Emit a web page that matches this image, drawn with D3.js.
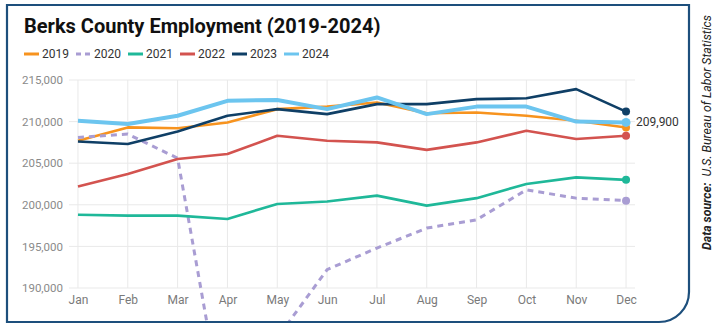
<!DOCTYPE html>
<html>
<head>
<meta charset="utf-8">
<script src="https://cdn.jsdelivr.net/npm/d3@7"></script>
<style>
  html, body { margin: 0; padding: 0; background: #fff; }
  svg { display: block; }
  text { font-family: Roboto, "Noto Sans", sans-serif; }
</style>
</head>
<body>
<svg id="chart" width="718" height="333"></svg>
<script>
// monthly employment, Berks County
var months = ["Jan", "Feb", "Mar", "Apr", "May", "Jun", "Jul", "Aug", "Sep", "Oct", "Nov", "Dec"];
var years = ["2019", "2020", "2021", "2022", "2023", "2024"];

var emp2019 = [207700, 209300, 209200, 209900, 211500, 211800, 212300, 211000, 211100, 210700, 210100, 209300];
var emp2020 = [208100, 208500, 205600, 172000, 184000, 192200, 194800, 197200, 198200, 201800, 200800, 200500];
var emp2021 = [198800, 198700, 198700, 198300, 200100, 200400, 201100, 199900, 200800, 202500, 203300, 203000];
var emp2022 = [202200, 203700, 205500, 206100, 208300, 207700, 207500, 206600, 207500, 208900, 207900, 208300];
var emp2023 = [207600, 207300, 208800, 210700, 211500, 210900, 212100, 212100, 212700, 212800, 213900, 211200];
var emp2024 = [210100, 209700, 210700, 212500, 212600, 211500, 212900, 210900, 211800, 211800, 210000, 209900];

var yTicks = [190000, 195000, 200000, 205000, 210000, 215000];

var colors = ["#f7931e", "#a99dd3", "#1fb899", "#d3534f", "#0f3f66", "#6cc5ef"];

var series = [emp2019, emp2020, emp2021, emp2022, emp2023, emp2024].map(function(vals, i) {
  return { year: years[i], values: vals, color: colors[i] };
});

var svg = d3.select("#chart"),
    width = +svg.attr("width"),
    height = +svg.attr("height");

// card outline, rounded bottom-right corner
svg.append("path")
    .attr("d", "M7,5 H689 V292 A30,30 0 0 1 659,322 H7 Z")
    .attr("fill", "#fff")
    .attr("stroke", "#1d4f7c")
    .attr("stroke-width", 2.2);

svg.append("text")
    .attr("x", 24)
    .attr("y", 33)
    .attr("font-size", 20)
    .attr("font-weight", "bold")
    .attr("fill", "#111")
    .text("Berks County Employment (2019-2024)");

// legend
var legend = svg.append("g").attr("transform", "translate(24,54)");
var item = legend.selectAll("g")
    .data(series)
    .enter().append("g")
      .attr("transform", function(d, i) { return "translate(" + (i * 52) + ",0)"; });
item.append("line")
    .attr("x1", 0).attr("x2", 15)
    .attr("stroke", function(d) { return d.color; })
    .attr("stroke-width", 3)
    .attr("stroke-dasharray", function(d) { return d.year == "2020" ? "5,4" : null; });
item.append("text")
    .attr("x", 18)
    .attr("y", 4)
    .attr("font-size", 12)
    .attr("fill", "#333")
    .text(function(d) { return d.year; });

var x = d3.scalePoint()
    .domain(months)
    .range([69, 635])
    .padding(0.18);

var y = d3.scaleLinear()
    .domain([190000, 215000])
    .range([288, 80]);

// grid
var grid = svg.append("g").attr("class", "grid");
grid.selectAll("line.h")
    .data(yTicks)
    .enter().append("line")
      .attr("class", "h")
      .attr("x1", 69).attr("x2", 635)
      .attr("y1", function(d) { return y(d); })
      .attr("y2", function(d) { return y(d); })
      .attr("stroke", "#e9e9e9")
      .attr("stroke-width", 1);
grid.selectAll("line.v")
    .data(months)
    .enter().append("line")
      .attr("class", "v")
      .attr("x1", function(d) { return x(d); })
      .attr("x2", function(d) { return x(d); })
      .attr("y1", 80).attr("y2", 288)
      .attr("stroke", "#e9e9e9")
      .attr("stroke-width", 1);

// axes (labels only)
var yAxis = svg.append("g")
    .attr("transform", "translate(63,0)")
    .call(d3.axisLeft(y).tickValues(yTicks).tickSize(0).tickPadding(0).tickFormat(d3.format(",")));
yAxis.select(".domain").remove();
yAxis.selectAll("text")
    .attr("font-size", 11.5)
    .attr("font-family", "Roboto, sans-serif")
    .attr("fill", "#8a8a8a");

var xAxis = svg.append("g")
    .attr("transform", "translate(0,288)")
    .call(d3.axisBottom(x).tickSize(0).tickPadding(7));
xAxis.select(".domain").remove();
xAxis.selectAll("text")
    .attr("font-size", 12)
    .attr("font-family", "Roboto, sans-serif")
    .attr("fill", "#7a7a7a");

// lines may dip below the axis, keep them inside the card
svg.append("clipPath")
    .attr("id", "card-clip")
  .append("rect")
    .attr("x", 8).attr("y", 6)
    .attr("width", 680).attr("height", 315);

var line = d3.line()
    .x(function(d, i) { return x(months[i]); })
    .y(function(d) { return y(d); });

var lines = svg.append("g").attr("clip-path", "url(#card-clip)");
lines.selectAll("path")
    .data(series)
    .enter().append("path")
      .attr("d", function(d) { return line(d.values); })
      .attr("fill", "none")
      .attr("stroke", function(d) { return d.color; })
      .attr("stroke-width", function(d) { return d.year == "2024" ? 4 : (d.year == "2020" ? 3 : 2.6); })
      .attr("stroke-dasharray", function(d) { return d.year == "2020" ? "6,5" : null; })
      .attr("stroke-linejoin", "round");

// end points
svg.append("g").selectAll("circle")
    .data(series)
    .enter().append("circle")
      .attr("cx", x("Dec"))
      .attr("cy", function(d) { return y(d.values[11]); })
      .attr("r", function(d) { return d.year == "2024" ? 4.5 : 4; })
      .attr("fill", function(d) { return d.color; });

svg.append("text")
    .attr("x", x("Dec") + 10)
    .attr("y", y(emp2024[11]) + 4)
    .attr("font-size", 12)
    .attr("fill", "#333")
    .text(d3.format(",")(emp2024[11]));

// source note, rotated on the right edge
var src = svg.append("text")
    .attr("transform", "translate(711,250) rotate(-90)")
    .attr("font-family", "'Liberation Sans', Arial, sans-serif")
    .attr("font-size", 12.5)
    .attr("font-style", "italic")
    .attr("fill", "#222")
    .attr("textLength", 235)
    .attr("lengthAdjust", "spacingAndGlyphs");
src.append("tspan").attr("font-weight", "bold").text("Data source:");
src.append("tspan").text("\u00a0 U.S. Bureau of Labor Statistics");
</script>
</body>
</html>
